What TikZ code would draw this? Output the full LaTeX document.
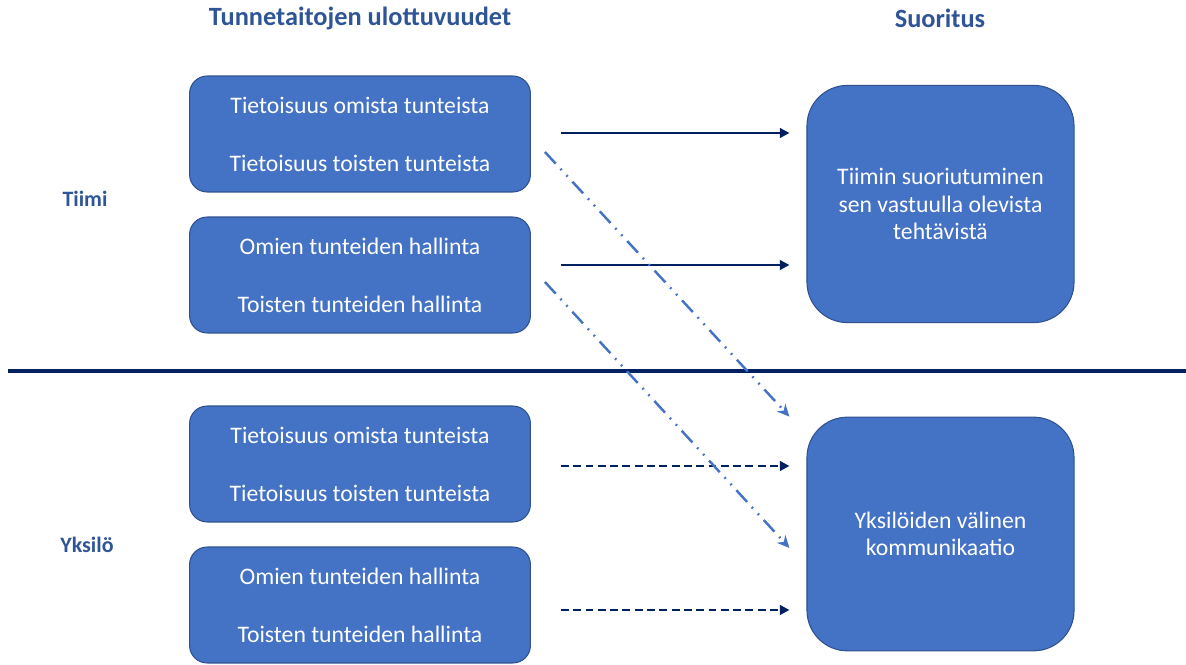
\documentclass[tikz,border=0pt]{standalone}
\usepackage{fontspec}
\setmainfont{Carlito}
\usepackage{xcolor}
\usetikzlibrary{arrows.meta,positioning,calc}

\definecolor{boxblue}{HTML}{4472C4}
\definecolor{boxedge}{HTML}{2F528F}
\definecolor{headblue}{HTML}{2F5597}
\definecolor{navy}{HTML}{002060}

\begin{document}
\begin{tikzpicture}[x=0.02cm,y=-0.02cm,
    skill/.style={draw=boxedge,line width=0.6pt,fill=boxblue,text=white,rounded corners=10pt,
      minimum width=194pt,minimum height=66pt,align=center,
      font=\fontsize{13.5}{33}\selectfont},
    result/.style={draw=boxedge,line width=0.6pt,fill=boxblue,text=white,rounded corners=23pt,
      minimum width=152pt,align=center,font=\fontsize{13.5}{15.5}\selectfont},
    head/.style={text=headblue,font=\bfseries\fontsize{15}{18}\selectfont},
    level/.style={text=headblue,font=\bfseries\fontsize{12.5}{15}\selectfont},
    solidarr/.style={-{Triangle[length=5.5pt,width=5.5pt]},navy,line width=1.4pt},
    dasharr/.style={solidarr,dash pattern=on 4.5pt off 2.5pt},
    crossarr/.style={-{Stealth[length=7pt,width=6.5pt]},boxblue,line width=1.4pt,
      dash pattern=on 9pt off 4pt on 1pt off 4pt on 1pt off 4pt}]
        \useasboundingbox (0,0) rectangle (1186,665);
        % headings
        \node[head] (hdim) at (360,18) {Tunnetaitojen ulottuvuudet};
        \node[head] (hres) at (940,18) {Suoritus};
        \node[level] (tiimi) at (85,199) {Tiimi};
        \node[level] (yksilo) at (87,545) {Yksilö};
        % left boxes
        \node[skill] (t1) at (360,134) {Tietoisuus omista tunteista\\Tietoisuus toisten tunteista};
        \node[skill] (t2) at (360,275) {Omien tunteiden hallinta\\Toisten tunteiden hallinta};
        \node[skill] (y1) at (360,464) {Tietoisuus omista tunteista\\Tietoisuus toisten tunteista};
        \node[skill] (y2) at (360,605) {Omien tunteiden hallinta\\Toisten tunteiden hallinta};
        % right boxes
        \node[result,minimum height=135pt] (rt) at (940.5,204) {Tiimin suoriutuminen\\sen vastuulla olevista\\tehtävistä};
        \node[result,minimum height=133pt] (ry) at (940.5,534) {Yksilöiden välinen\\kommunikaatio};
        % divider
        \draw[navy,line width=1.8pt] (8,371) -- (1186,371);
        % arrows
        \draw[solidarr] ([shift={(30,-1)}]t1.east) -- ([shift={(-17,-1)}]t1.east -| rt.west);
        \draw[solidarr] ([shift={(30,-10)}]t2.east) -- ([shift={(-17,-10)}]t2.east -| rt.west);
        \draw[dasharr] ([shift={(30,2)}]y1.east) -- ([shift={(-17,2)}]y1.east -| ry.west);
        \draw[dasharr] ([shift={(30,5)}]y2.east) -- ([shift={(-17,5)}]y2.east -| ry.west);
        \draw[crossarr] ([shift={(14,18)}]t1.east) -- ([shift={(-17,0)}]ry.north west);
        \draw[crossarr] ([shift={(14,7)}]t2.east) -- ([shift={(-17,14)}]ry.west);
\end{tikzpicture}
\end{document}
